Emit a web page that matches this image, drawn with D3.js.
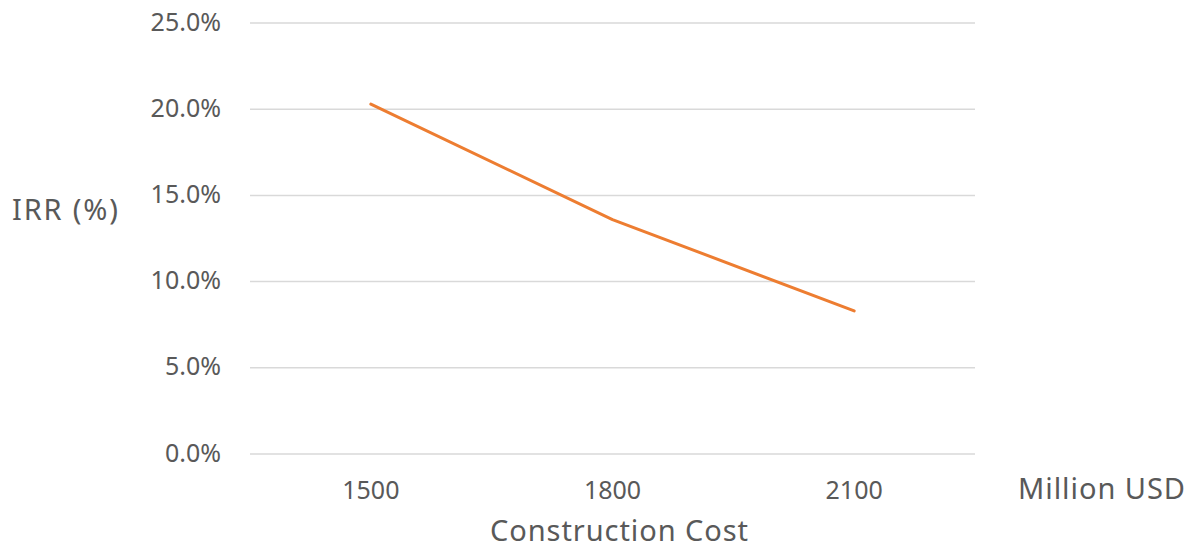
<!DOCTYPE html>
<html>
<head>
<meta charset="utf-8">
<script src="https://cdn.jsdelivr.net/npm/d3@7"></script>
<style>
  html, body { margin: 0; padding: 0; background: #fff; }
  svg text { font-family: "Noto Sans", "Open Sans", sans-serif; fill: #595959; }
</style>
</head>
<body>
<svg id="chart" width="1193" height="546"></svg>
<script>
// Construction cost scenarios (million USD) and resulting IRR
const costs = ["1500", "1800", "2100"];
const irr = [0.203, 0.136, 0.083];
const yTicks = [0, 0.05, 0.10, 0.15, 0.20, 0.25];

const svg = d3.select("#chart");
const plot = { left: 250, right: 975, top: 23, bottom: 454 };

const x = d3.scaleBand().domain(costs).range([plot.left, plot.right]);
const y = d3.scaleLinear().domain([0, 0.25]).range([plot.bottom, plot.top]);

// Horizontal gridlines
svg.append("g")
  .selectAll("line")
  .data(yTicks)
  .join("line")
  .attr("x1", plot.left)
  .attr("x2", plot.right)
  .attr("y1", d => y(d))
  .attr("y2", d => y(d))
  .attr("stroke", "#d9d9d9")
  .attr("stroke-width", 1.5);

// Y axis labels
const yAxis = d3.axisLeft(y).tickValues(yTicks).tickFormat(d3.format(".1%")).tickSize(0).tickPadding(29);
const yg = svg.append("g").attr("transform", `translate(${plot.left},0)`).call(yAxis);
yg.select(".domain").remove();
yg.selectAll("text").style("font-size", "25px").attr("fill", "#595959").attr("dy", "0.28em");

// X axis labels
const xAxis = d3.axisBottom(x).tickSize(0).tickPadding(27);
const xg = svg.append("g").attr("transform", `translate(0,${plot.bottom})`).call(xAxis);
xg.select(".domain").remove();
xg.selectAll("text").style("font-size", "25px").attr("fill", "#595959");

// IRR line
const line = d3.line()
  .x((d, i) => x(costs[i]) + x.bandwidth() / 2)
  .y(d => y(d));

svg.append("path")
  .datum(irr)
  .attr("d", line)
  .attr("fill", "none")
  .attr("stroke", "#ed7d31")
  .attr("stroke-width", 3)
  .attr("stroke-linejoin", "round")
  .attr("stroke-linecap", "round");

// Axis titles
svg.append("text")
  .attr("x", 12).attr("y", 220)
  .style("font-size", "29px")
  .attr("textLength", 106)
  .text("IRR (%)");

svg.append("text")
  .attr("x", 619).attr("y", 541)
  .attr("text-anchor", "middle")
  .style("font-size", "29px")
  .attr("textLength", 258)
  .text("Construction Cost");

svg.append("text")
  .attr("x", 1018).attr("y", 499)
  .style("font-size", "29px")
  .attr("textLength", 167)
  .text("Million USD");
</script>
</body>
</html>
